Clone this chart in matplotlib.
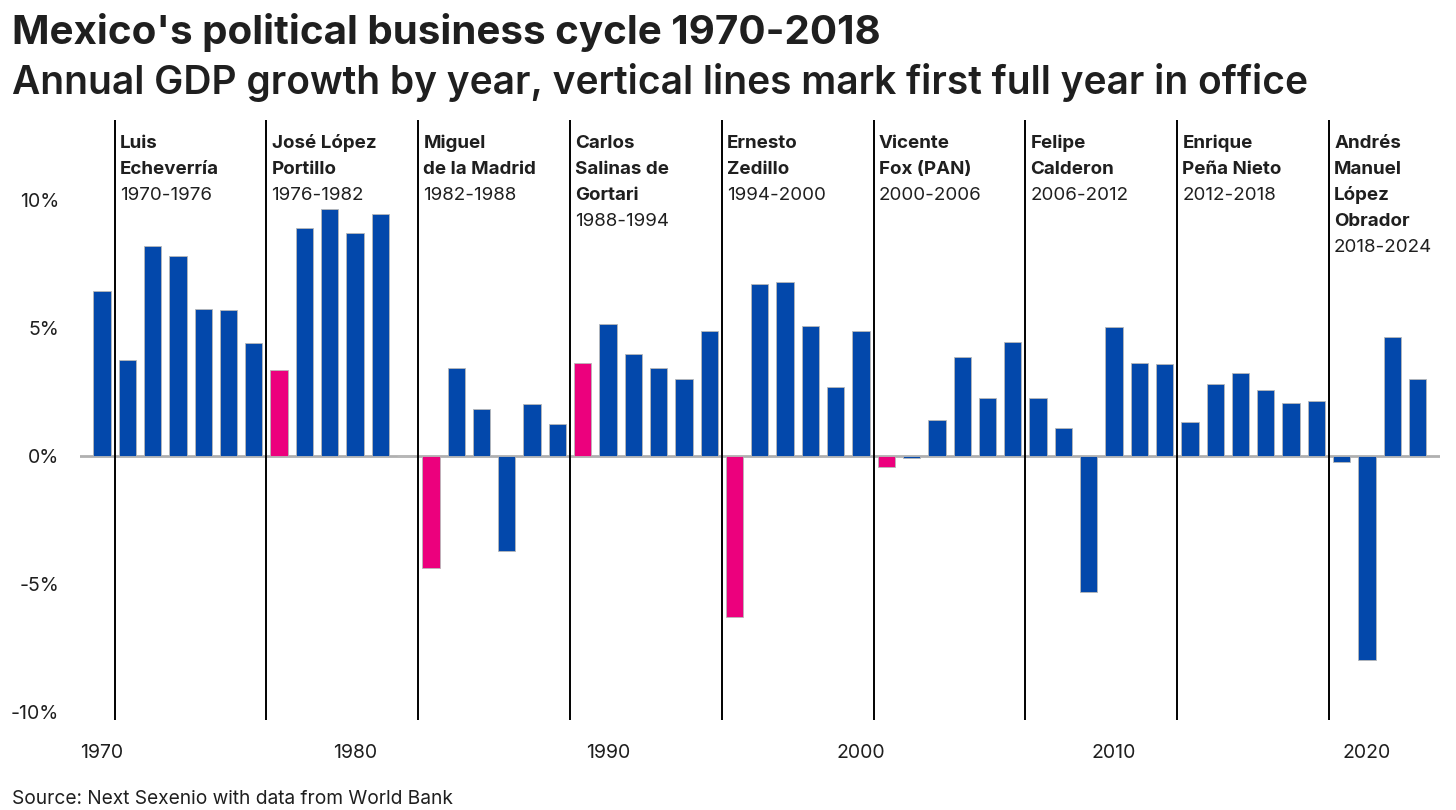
import matplotlib.pyplot as plt

plt.rcParams['font.family'] = ['Inter', 'DejaVu Sans']

# Annual GDP growth (%)
years = list(range(1970, 2023))
growth = [6.45, 3.75, 8.2, 7.8, 5.75, 5.7, 4.4,
          3.35, 8.9, 9.65, 8.7, 9.45, 0.0,
          -4.38, 3.45, 1.83, -3.72, 2.03, 1.25,
          3.62, 5.17, 3.97, 3.46, 3.03, 4.88,
          -6.29, 6.72, 6.81, 5.1, 2.71, 4.88,
          -0.43, -0.06, 1.41, 3.87, 2.25, 4.44,
          2.25, 1.11, -5.29, 5.06, 3.63, 3.59,
          1.33, 2.8, 3.26, 2.6, 2.06, 2.15,
          -0.22, -7.98, 4.65, 3.02]

# first full year in office highlighted in pink
highlight_years = [1977, 1983, 1989, 1995, 2001]

term_starts = [1970, 1976, 1982, 1988, 1994, 2000, 2006, 2012, 2018]
president_names = [['Luis', 'Echeverría'], ['José López', 'Portillo'], ['Miguel', 'de la Madrid'],
                   ['Carlos', 'Salinas de', 'Gortari'], ['Ernesto', 'Zedillo'], ['Vicente', 'Fox (PAN)'],
                   ['Felipe', 'Calderon'], ['Enrique', 'Peña Nieto'], ['Andrés', 'Manuel', 'López', 'Obrador']]
term_labels = ['1970-1976', '1976-1982', '1982-1988', '1988-1994', '1994-2000',
               '2000-2006', '2006-2012', '2012-2018', '2018-2024']

yticks = [-10, -5, 0, 5, 10]
xticks = [1970, 1980, 1990, 2000, 2010, 2020]

BLUE = '#0348AB'
PINK = '#EC007D'
TXT = '#1f1f1f'

fig = plt.figure(figsize=(14.56, 8.10), dpi=100)
ax = fig.add_axes([80 / 1456, 90 / 810, 1360 / 1456, 600 / 810])

colors = [PINK if y in highlight_years else BLUE for y in years]
ax.bar(years, growth, width=0.68, color=colors, edgecolor='#b8b8b8', linewidth=0.6, zorder=2)
ax.axhline(0, color='#b0b0b0', lw=2, zorder=1)

# president labels: one text per line, 26 px apart
tr = ax.get_xaxis_transform()
for start, name, label in zip(term_starts, president_names, term_labels):
    ax.axvline(start + 0.5, ymin=0, ymax=1, color='black', lw=1.4, zorder=3)
    lines = name + [label]
    for i, line in enumerate(lines):
        ypix = 143 + 26 * i
        ax.text(start + 0.7, (720 - ypix) / 600, line, transform=tr,
                fontsize=13.5, fontweight='bold' if i < len(name) else 'normal',
                color=TXT, va='center', ha='left')

x_per_px = 50 / 1265
ax.set_xlim(1970 - 22 * x_per_px, 1970 + 1338 * x_per_px)
ax.set_ylim(-10.31, 13.13)

ax.set_yticks(yticks)
ax.set_yticklabels([f'{v}%' for v in yticks])
ax.set_xticks(xticks)
ax.tick_params(length=0, labelsize=14, colors=TXT)
ax.tick_params(axis='x', pad=17)
ax.tick_params(axis='y', pad=15)
for s in ax.spines.values():
    s.set_visible(False)

fig.text(12 / 1456, 1 - 32 / 810, "Mexico's political business cycle 1970-2018",
         fontsize=29, fontweight='bold', color=TXT, va='center', ha='left')
fig.text(12 / 1456, 1 - 83 / 810,
         'Annual GDP growth by year, vertical lines mark first full year in office',
         fontsize=28, fontweight='semibold', color=TXT, va='center', ha='left')
fig.text(12 / 1456, 1 - 799 / 810, 'Source: Next Sexenio with data from World Bank',
         fontsize=13.8, color=TXT, va='center', ha='left')

fig.savefig('out.png', dpi=100)
